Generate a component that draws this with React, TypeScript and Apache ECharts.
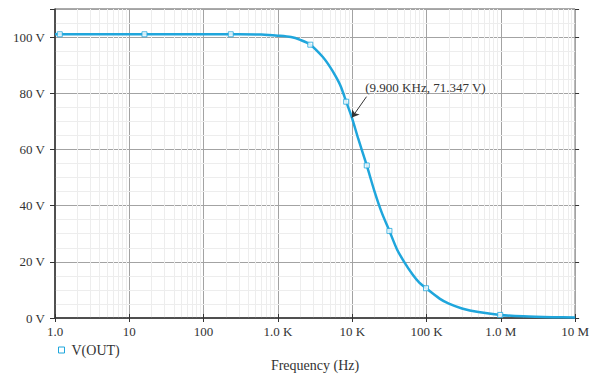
import React, { useEffect, useRef } from "react";
import * as echarts from "echarts";

// Frequency (Hz) and output voltage (V)
const FREQ = [1, 10, 100, 300, 600, 1000, 1500, 2000, 2730, 4000, 5000, 6000, 7000, 8300, 9900, 12000, 15700, 20000, 25000, 31700, 40000, 50000, 65000, 80000, 98600, 150000, 200000, 300000, 500000, 982000, 2000000, 5000000, 10000000];
const VOUT = [101, 101, 101, 101, 100.9, 100.5, 100, 99, 97.3, 93, 89.5, 86, 82.5, 77, 71.35, 64, 54.3, 45, 37.5, 31, 24.5, 20, 15.5, 12.6, 10.6, 6.9, 5.1, 3.4, 2.1, 1.1, 0.6, 0.3, 0.2];

// Marker points shown on the trace
const MARK_FREQ = [1.16, 16, 232, 2730, 8300, 15700, 31700, 98600, 982000];
const MARK_VOUT = [101, 101, 101, 97.3, 77, 54.3, 31, 10.6, 1.1];

// Tick labels
const X_TICK_LABELS = ["1.0", "10", "100", "1.0 K", "10 K", "100 K", "1.0 M", "10 M"];
const Y_TICKS = [0, 20, 40, 60, 80, 100];

// Annotation
const ANNOT_F = 9900;
const ANNOT_V = 71.347;
const ANNOT_TEXT = "(9.900 KHz, 71.347 V)";
const ANNOT_TAIL = [15600, 78.8];
const ANNOT_LABEL_AT = [15000, 82];

const FONT = "Liberation Serif";
const LINE_COLOR = "#1fa6dc";

export default function App() {
  const ref = useRef<HTMLDivElement>(null);

  useEffect(() => {
    if (!ref.current) return;
    const chart = echarts.init(ref.current, undefined, { renderer: "svg" });

    const minorX: any[] = [];
    for (let d = 0; d < 7; d++) {
      for (let m = 2; m <= 9; m++) minorX.push({ xAxis: m * Math.pow(10, d) });
    }
    const minorY: any[] = [];
    for (let v = 5; v < 110; v += 5) {
      if (v % 20 !== 0) minorY.push({ yAxis: v });
    }

    const option: any = {
      animation: false,
      backgroundColor: "#ffffff",
      textStyle: { fontFamily: FONT },
      grid: {
        left: 55,
        right: 16,
        top: 9,
        bottom: 58.5,
        show: true,
        borderColor: "#555",
        borderWidth: 1,
        backgroundColor: "#fff",
      },
      legend: {
        left: 53,
        top: 338,
        itemWidth: 6,
        itemHeight: 6,
        textStyle: { fontFamily: FONT, fontSize: 14, color: "#333", padding: [0, 0, 0, 2] },
        data: [
          {
            name: "V(OUT)",
            icon: "rect",
            itemStyle: { color: "#fff", borderColor: LINE_COLOR, borderWidth: 1 },
          },
        ],
      },
      xAxis: [
        {
          type: "log",
          logBase: 10,
          min: 1,
          max: 1e7,
          interval: 1,
          name: "Frequency (Hz)",
          nameLocation: "middle",
          nameGap: 40,
          nameTextStyle: { fontFamily: FONT, fontSize: 14, color: "#333" },
          axisLine: { show: true, lineStyle: { color: "#333", width: 1.5 } },
          axisTick: { show: true, length: 4, lineStyle: { color: "#333" } },
          axisLabel: {
            fontFamily: FONT,
            fontSize: 13,
            color: "#333",
            margin: 7,
            formatter: (v: number) => {
              const i = Math.round(Math.log10(v));
              return X_TICK_LABELS[i] ?? "";
            },
          },
          splitLine: { show: true, lineStyle: { color: "#a3a3a3", width: 1 } },
        },
        {
          type: "log",
          logBase: 10,
          min: 1,
          max: 1e7,
          interval: 1,
          position: "top",
          axisLine: { show: false },
          axisTick: { show: true, length: 4, lineStyle: { color: "#333" } },
          axisLabel: { show: false },
          splitLine: { show: false },
        },
      ],
      yAxis: [
        {
          type: "value",
          min: 0,
          max: 110,
          interval: 20,
          axisLine: { show: true, lineStyle: { color: "#333", width: 1.5 } },
          axisTick: { show: true, length: 5, lineStyle: { color: "#333" } },
          axisLabel: {
            fontFamily: FONT,
            fontSize: 13,
            color: "#333",
            margin: 10,
            formatter: (v: number) => (Y_TICKS.includes(v) ? `${v} V` : ""),
          },
          splitLine: { show: true, lineStyle: { color: "#a3a3a3", width: 1 } },
        },
        {
          type: "value",
          min: 0,
          max: 110,
          interval: 20,
          position: "right",
          axisLine: { show: false },
          axisTick: { show: true, length: 4, lineStyle: { color: "#333" } },
          axisLabel: { show: false },
          splitLine: { show: false },
        },
      ],
      series: [
        {
          name: "grid-minor",
          type: "line",
          data: [],
          z: 0,
          silent: true,
          markLine: {
            silent: true,
            z: 0,
            symbol: ["none", "none"],
            label: { show: false },
            lineStyle: { color: "#ededed", width: 1, type: "solid" },
            emphasis: { disabled: true },
            data: [...minorX, ...minorY],
          },
        },
        {
          name: "V(OUT)",
          type: "line",
          data: FREQ.map((f, i) => [f, VOUT[i]]),
          smooth: 0.3,
          showSymbol: false,
          z: 5,
          lineStyle: { color: LINE_COLOR, width: 2.5 },
          itemStyle: { color: LINE_COLOR },
          markLine: {
            silent: true,
            z: 6,
            symbol: ["none", "arrow"],
            symbolSize: 7,
            label: { show: false },
            lineStyle: { color: "#333", width: 1, type: "solid" },
            data: [[{ coord: ANNOT_TAIL }, { coord: [ANNOT_F, ANNOT_V] }]],
          },
          markPoint: {
            silent: true,
            z: 6,
            symbol: "circle",
            symbolSize: 0,
            label: {
              show: true,
              position: "right",
              distance: 0,
              formatter: ANNOT_TEXT,
              fontFamily: FONT,
              fontSize: 13,
              color: "#333",
            },
            data: [{ coord: ANNOT_LABEL_AT }],
          },
        },
        {
          name: "markers",
          type: "scatter",
          data: MARK_FREQ.map((f, i) => [f, MARK_VOUT[i]]),
          symbol: "rect",
          symbolSize: 5,
          z: 7,
          itemStyle: { color: "#ffffff", borderColor: LINE_COLOR, borderWidth: 1 },
        },
      ],
    };

    chart.setOption(option);
    return () => chart.dispose();
  }, []);

  return <div ref={ref} style={{ width: 592, height: 377, position: "absolute", left: 0, top: 0 }} />;
}
